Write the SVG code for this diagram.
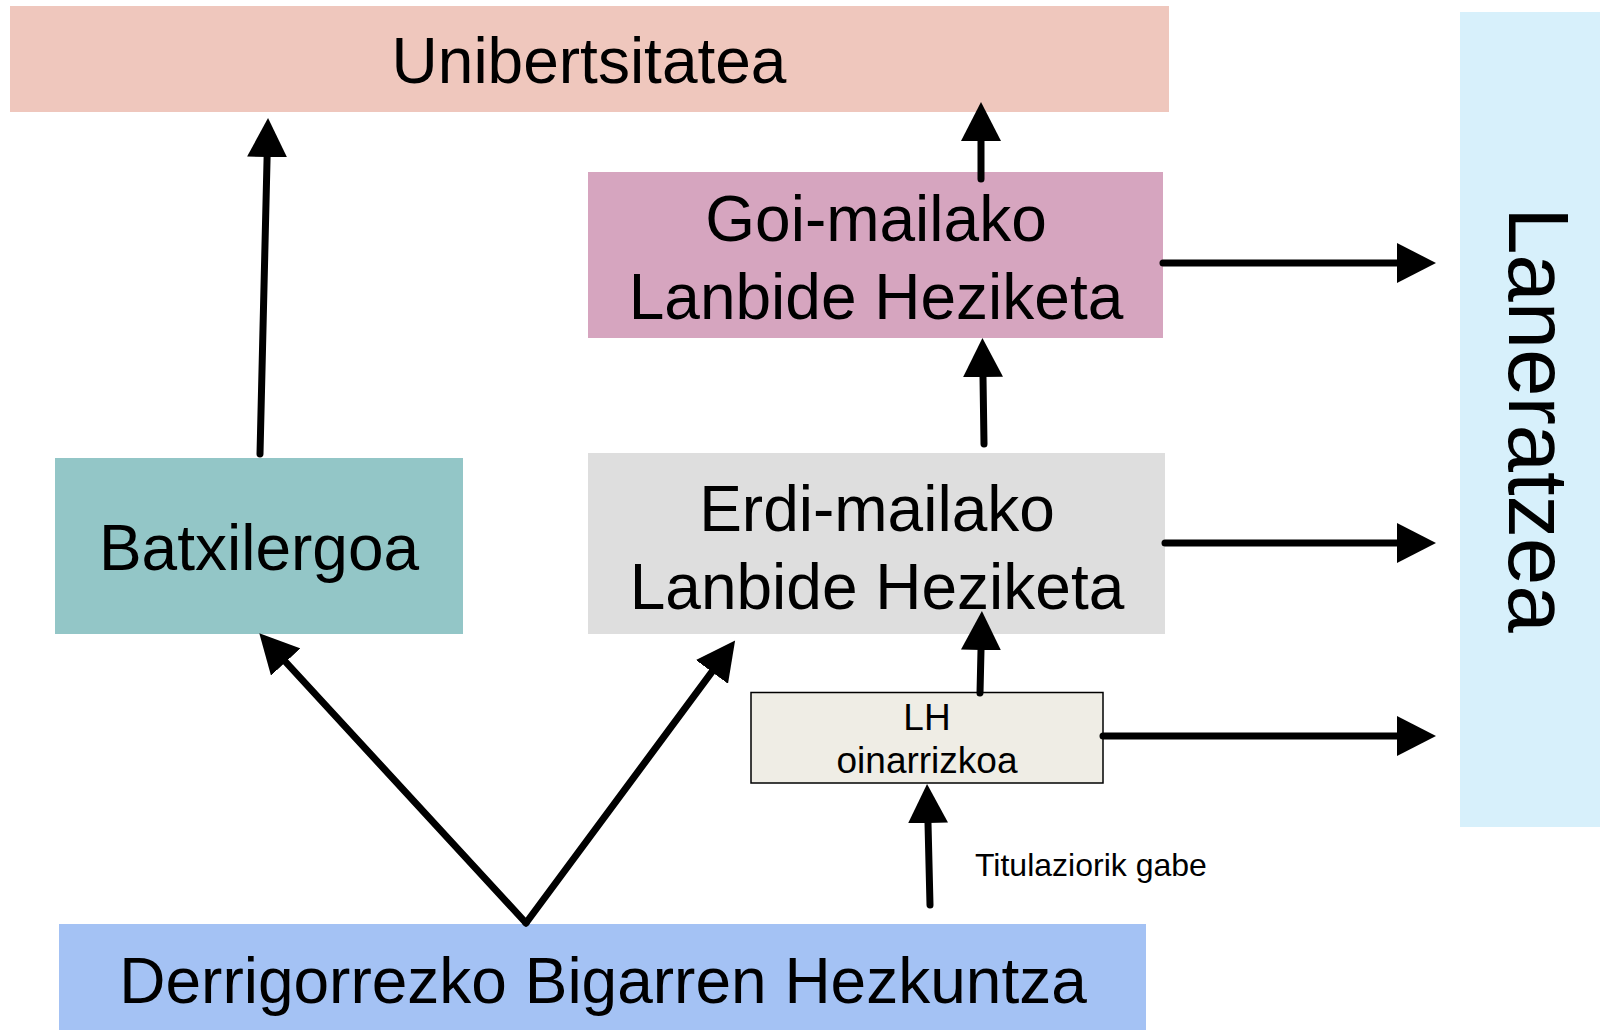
<svg xmlns="http://www.w3.org/2000/svg" width="1604" height="1032" viewBox="0 0 1604 1032">
<style>
text{font-family:"Liberation Sans",Arial,sans-serif;fill:#000}
.big{font-size:64px}
.mid{font-size:37px}
.sm{font-size:32px}
.lan{font-size:85px}
.c{text-anchor:middle}
.a{stroke:#000;stroke-width:7;stroke-linecap:round;fill:none;marker-end:url(#ah)}
</style>
<defs>
<marker id="ah" markerUnits="userSpaceOnUse" markerWidth="40" markerHeight="40" refX="0" refY="20" orient="auto" viewBox="0 0 40 40">
<path d="M0,0 L39,20 L0,40 z" fill="#000"/>
</marker>
</defs>
<rect width="1604" height="1032" fill="#fff"/>
<g id="unibertsitatea">
<rect x="10" y="6" width="1159" height="106" fill="#efc7bd"/>
<text class="big c" x="589" y="83">Unibertsitatea</text>
</g>
<g id="goi-mailako">
<rect x="588" y="172" width="575" height="166" fill="#d6a5bf"/>
<text class="big c" x="876" y="241">Goi-mailako</text>
<text class="big c" x="876" y="319">Lanbide Heziketa</text>
</g>
<g id="erdi-mailako">
<rect x="588" y="453" width="577" height="181" fill="#dedede"/>
<text class="big c" x="877" y="531">Erdi-mailako</text>
<text class="big c" x="877" y="609">Lanbide Heziketa</text>
</g>
<g id="batxilergoa">
<rect x="55" y="458" width="408" height="176" fill="#93c6c7"/>
<text class="big c" x="259" y="570">Batxilergoa</text>
</g>
<g id="lh-oinarrizkoa">
<rect x="751" y="692.5" width="352" height="90.5" fill="#efede5" stroke="#000" stroke-width="1.5"/>
<text class="mid c" x="927" y="730">LH</text>
<text class="mid c" x="927" y="773">oinarrizkoa</text>
</g>
<g id="dbh">
<rect x="59" y="924" width="1087" height="106" fill="#a4c2f4"/>
<text class="big c" x="603" y="1003">Derrigorrezko Bigarren Hezkuntza</text>
</g>
<g id="laneratzea">
<rect x="1460" y="12" width="140" height="815" fill="#d7f0fb"/>
<text class="lan c" transform="translate(1509,420) rotate(90)" x="0" y="0">Laneratzea</text>
</g>
<g id="connectors">
<line class="a" x1="260" y1="454" x2="267.1" y2="157"/>
<line class="a" x1="981" y1="179" x2="981" y2="141"/>
<line class="a" x1="984" y1="444" x2="983" y2="377"/>
<line class="a" x1="980" y1="693" x2="981" y2="650"/>
<line class="a" x1="1163" y1="263" x2="1397" y2="263"/>
<line class="a" x1="1165" y1="543" x2="1397" y2="543"/>
<line class="a" x1="1103" y1="736" x2="1397" y2="736"/>
<line class="a" x1="526" y1="923" x2="285.7" y2="662"/>
<line class="a" x1="526" y1="923" x2="711.9" y2="671.9"/>
<line class="a" x1="930" y1="905" x2="928" y2="823"/>
<text class="sm" x="975" y="876">Titulaziorik gabe</text>
</g>
</svg>
